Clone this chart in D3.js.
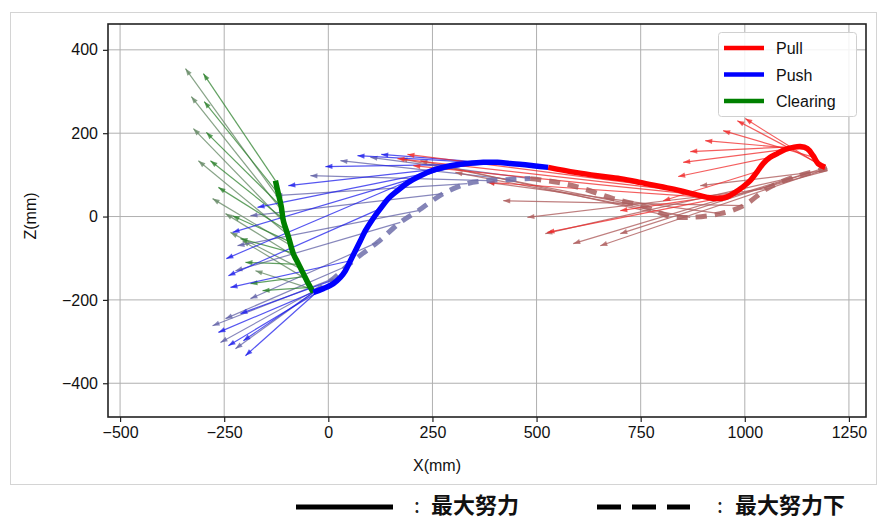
<!DOCTYPE html>
<html><head><meta charset="utf-8">
<script src="https://cdn.jsdelivr.net/npm/d3@7"></script>
<style>body{margin:0;background:#fff}svg{display:block}</style>
</head><body>
<svg id="chart" width="883" height="519"></svg>
<script>
// ---------- data (mm) ----------
const xTicks = [-500, -250, 0, 250, 500, 750, 1000, 1250];
const zTicks = [-400, -200, 0, 200, 400];
const seriesNames = ["Pull", "Push", "Clearing"];
const bottomLegend = ["最大努力", "最大努力下"];

// trajectories at maximum effort (solid)
const pushPathX = [-36, -12, 12, 29, 41, 53, 65, 77, 89, 106, 125, 144, 166, 192, 221, 257, 293, 334, 372, 406, 437, 466, 492, 528];
const pushPathZ = [-182, -173, -161, -146, -130, -106, -82, -58, -34, -7, 19, 43, 62, 82, 98, 113, 122, 127, 130, 130, 127, 125, 122, 118];
const pullPathX = [528, 593, 646, 701, 749, 797, 845, 881, 910, 934, 955, 972, 994, 1013, 1030, 1044, 1061, 1078, 1097, 1116, 1133, 1150, 1164, 1176, 1193];
const pullPathZ = [118, 106, 98, 91, 82, 72, 62, 53, 46, 43, 46, 55, 70, 86, 108, 127, 142, 151, 161, 166, 168, 163, 146, 127, 118];
const clearPathX = [-127, -120, -113, -108, -96, -84, -72, -60, -48, -36];
const clearPathZ = [86, 55, 24, -10, -48, -89, -113, -137, -161, -182];

// trajectories below maximum effort (dashed)
const pushLowX = [-36, 12, 46, 82, 118, 173, 216, 276, 334, 382, 437, 485];
const pushLowZ = [-182, -149, -118, -89, -62, -14, 14, 55, 79, 86, 89, 91];
const pullLowX = [485, 550, 612, 684, 766, 814, 869, 941, 997, 1054, 1116, 1198];
const pullLowZ = [91, 82, 67, 43, 22, 2, -2, 7, 26, 67, 94, 115];

// force arrows [x0, z0, x1, z1]
const clearArrows = [[-127,86,-300,343],[-120,55,-298,276],[-113,24,-293,202],[-106,-7,-283,134],[-98,-34,-264,70],[-89,-62,-230,2],[-79,-89,-211,-53],[-70,-115,-199,-110],[-58,-144,-187,-161],[-43,-170,-158,-178]];
const clearLowArrows = [[-115,38,-343,355],[-108,10,-329,288],[-101,-19,-324,211],[-94,-46,-312,134],[-86,-72,-278,43],[-77,-98,-247,7],[-67,-125,-235,-38],[-55,-149,-206,-58],[-43,-173,-175,-130]];
const pushArrows = [[528,118,127,149],[492,122,70,146],[449,127,-7,120],[406,130,-96,74],[365,130,-170,22],[317,125,-230,-38],[257,113,-245,-101],[125,19,-240,-142],[53,-106,-235,-170],[29,-146,-211,-233],[12,-161,-264,-278],[-12,-173,-240,-310],[-24,-178,-199,-334],[-36,-182,-204,-298]];
const pushLowArrows = [[485,91,101,142],[437,89,29,134],[382,86,-43,98],[334,79,-127,50],[276,55,-187,2],[216,14,-218,-70],[173,-14,-223,-130],[118,-62,-187,-197],[46,-118,-247,-245],[12,-149,-278,-262],[-12,-166,-259,-302],[-36,-182,-223,-317]];
const pullArrows = [[1193,115,1001,235],[1181,125,982,230],[1166,142,948,206],[1150,161,905,182],[1126,168,869,156],[1097,161,852,130],[1061,142,840,96],[1030,108,804,38],[972,55,701,14],[934,43,526,-38],[910,46,382,82],[881,53,204,122],[845,62,166,139],[797,72,190,149]];
const pullLowArrows = [[1198,115,653,-70],[1186,115,701,-41],[1157,106,588,-65],[1116,94,521,-41],[1054,67,478,-2],[997,26,420,38],[941,7,382,82],[869,-2,305,106],[814,2,221,134],[766,22,173,139],[1193,110,893,74],[1198,110,929,38]];

// ---------- layout ----------
const svg = d3.select("#chart");
const plot = {left: 108, right: 866, top: 24, bottom: 417};
const x = d3.scaleLinear().domain([-529, 1291]).range([plot.left, plot.right]);
const z = d3.scaleLinear().domain([-481, 462]).range([plot.bottom, plot.top]);
const font = "'Liberation Sans', Arial, Helvetica, sans-serif";

// outer figure frame
svg.append("rect").attr("x", 10.5).attr("y", 12.5).attr("width", 866).attr("height", 472)
  .attr("fill", "#fff").attr("stroke", "#d4d4d4").attr("stroke-width", 1);

const defs = svg.append("defs");
svg.append("clipPath").attr("id", "clip").append("rect")
  .attr("x", plot.left).attr("y", plot.top).attr("width", plot.right - plot.left).attr("height", plot.bottom - plot.top);

// grid
const grid = svg.append("g");
grid.selectAll(".gx").data(xTicks).join("line")
  .attr("x1", d => x(d)).attr("x2", d => x(d)).attr("y1", plot.top).attr("y2", plot.bottom)
  .attr("stroke", "#b0b0b0").attr("stroke-width", 1);
grid.selectAll(".gz").data(zTicks).join("line")
  .attr("y1", d => z(d)).attr("y2", d => z(d)).attr("x1", plot.left).attr("x2", plot.right)
  .attr("stroke", "#b0b0b0").attr("stroke-width", 1);

// markers
function marker(id, color) {
  defs.append("marker").attr("id", id).attr("viewBox", "-8 -4 9 8")
    .attr("markerWidth", 9).attr("markerHeight", 8).attr("markerUnits", "userSpaceOnUse")
    .attr("refX", 0).attr("refY", 0).attr("orient", "auto")
    .append("path").attr("d", "M0,0L-7,-2.6L-7,2.6Z").attr("fill", color);
}
const arrowSets = [
  {data: clearLowArrows, color: "rgba(105,140,105,0.8)", id: "mCL"},
  {data: pushLowArrows, color: "rgba(95,95,165,0.75)", id: "mPL"},
  {data: pullLowArrows, color: "rgba(175,95,95,0.8)", id: "mRL"},
  {data: clearArrows, color: "rgba(45,130,45,0.75)", id: "mC"},
  {data: pushArrows, color: "rgba(30,30,235,0.75)", id: "mP"},
  {data: pullArrows, color: "rgba(240,40,40,0.75)", id: "mR"}
];
const marks = svg.append("g").attr("clip-path", "url(#clip)");
arrowSets.forEach(s => {
  marker(s.id, s.color);
  marks.append("g").selectAll("line").data(s.data).join("line")
    .attr("x1", d => x(d[0])).attr("y1", d => z(d[1]))
    .attr("x2", d => x(d[2])).attr("y2", d => z(d[3]))
    .attr("stroke", s.color).attr("stroke-width", 1.2)
    .attr("marker-end", `url(#${s.id})`);
});

const line = d3.line().x(d => x(d[0])).y(d => z(d[1])).curve(d3.curveCatmullRom.alpha(0.5));
const zip = (a, b) => a.map((v, i) => [v, b[i]]);

// dashed (below max effort)
marks.append("path").datum(zip(pushLowX, pushLowZ)).attr("d", line)
  .attr("fill", "none").attr("stroke", "rgba(110,110,170,0.85)").attr("stroke-width", 5)
  .attr("stroke-dasharray", "11,8");
marks.append("path").datum(zip(pullLowX, pullLowZ)).attr("d", line)
  .attr("fill", "none").attr("stroke", "rgba(170,95,95,0.85)").attr("stroke-width", 5)
  .attr("stroke-dasharray", "11,8");

// solid (max effort)
const solid = [
  {d: zip(clearPathX, clearPathZ), c: "#008000"},
  {d: zip(pushPathX, pushPathZ), c: "#0000ff"},
  {d: zip(pullPathX, pullPathZ), c: "#ff0000"}
];
solid.forEach(s => marks.append("path").datum(s.d).attr("d", line)
  .attr("fill", "none").attr("stroke", s.c).attr("stroke-width", 5.5).attr("stroke-linecap", "butt"));

// spines
svg.append("rect").attr("x", plot.left).attr("y", plot.top)
  .attr("width", plot.right - plot.left).attr("height", plot.bottom - plot.top)
  .attr("fill", "none").attr("stroke", "#222").attr("stroke-width", 1.6);

// axes
const fmt = d => d < 0 ? "\u2212" + Math.abs(d) : String(d);
const xAxis = svg.append("g").attr("transform", `translate(0,${plot.bottom})`)
  .call(d3.axisBottom(x).tickValues(xTicks).tickFormat(fmt).tickSize(5).tickPadding(4));
const zAxis = svg.append("g").attr("transform", `translate(${plot.left},0)`)
  .call(d3.axisLeft(z).tickValues(zTicks).tickFormat(fmt).tickSize(5).tickPadding(5));
[xAxis, zAxis].forEach(a => {
  a.select(".domain").remove();
  a.selectAll("line").attr("stroke", "#222").attr("stroke-width", 1.2);
  a.selectAll("text").attr("font-family", font).attr("font-size", 16).attr("fill", "#111");
});
xAxis.selectAll("text").attr("dy", "0.75em");

svg.append("text").attr("x", 437).attr("y", 471).attr("text-anchor", "middle")
  .attr("font-family", font).attr("font-size", 16).attr("fill", "#111").text("X(mm)");
svg.append("text").attr("transform", "translate(36,216) rotate(-90)").attr("text-anchor", "middle")
  .attr("font-family", font).attr("font-size", 16).attr("fill", "#111").text("Z(mm)");

// legend (top right)
const lg = svg.append("g");
lg.append("rect").attr("x", 718.5).attr("y", 32.5).attr("width", 138).attr("height", 84).attr("rx", 3)
  .attr("fill", "rgba(255,255,255,0.85)").attr("stroke", "#d0d0d0");
const legColors = ["#ff0000", "#0000ff", "#008000"];
seriesNames.forEach((n, i) => {
  const yy = 48 + i * 26.5;
  lg.append("line").attr("x1", 724).attr("x2", 764).attr("y1", yy).attr("y2", yy)
    .attr("stroke", legColors[i]).attr("stroke-width", 4.5);
  lg.append("text").attr("x", 776).attr("y", yy + 6).attr("font-family", font).attr("font-size", 16)
    .attr("fill", "#111").text(n);
});

// bottom legend
const jp = "'Noto Sans CJK JP', 'Noto Sans CJK SC', sans-serif";
const bl = [
  {x1: 296, x2: 393, dash: null, cx: 414, tx: 431},
  {x1: 597, x2: 690, dash: "24,11", cx: 717, tx: 735}
];
bl.forEach((b, i) => {
  const l = svg.append("line").attr("x1", b.x1).attr("x2", b.x2).attr("y1", 507).attr("y2", 507)
    .attr("stroke", "#000").attr("stroke-width", 5);
  if (b.dash) l.attr("stroke-dasharray", b.dash);
  svg.append("text").attr("x", b.cx).attr("y", 513).attr("font-family", jp)
    .attr("font-size", 21).attr("fill", "#222").text(":");
  svg.append("text").attr("x", b.tx).attr("y", 513).attr("font-family", jp).attr("font-weight", "bold")
    .attr("font-size", 22).attr("fill", "#111").text(bottomLegend[i]);
});
</script>
</body></html>
